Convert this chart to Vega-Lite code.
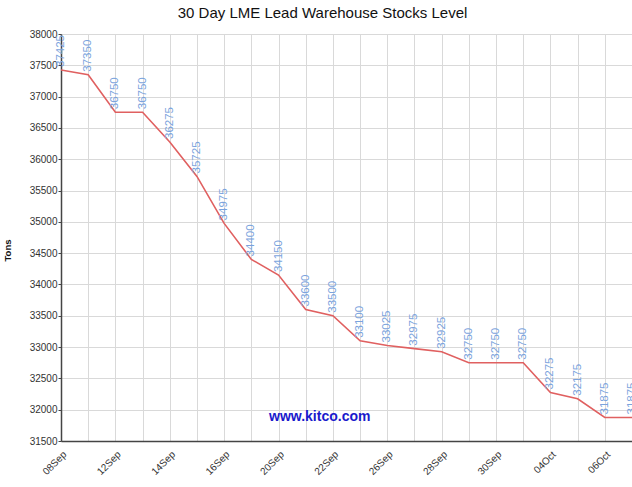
{
  "$schema": "https://vega.github.io/schema/vega-lite/v6.json",
  "autosize": "none",
  "width": 571,
  "height": 407,
  "padding": {"left": 61, "top": 34, "right": 0, "bottom": 46},
  "background": "white",
  "title": {
    "text": "30 Day LME Lead Warehouse Stocks Level",
    "font": "Liberation Sans",
    "fontSize": 15,
    "fontWeight": "normal",
    "color": "#111",
    "anchor": "middle",
    "frame": "group",
    "dx": -24,
    "offset": 8
  },
  "config": {
    "view": {"stroke": "#555", "strokeWidth": 1},
    "font": "Liberation Sans"
  },
  "data": {
    "values": [
      {"date": "08Sep", "tons": 37425},
      {"date": "09Sep", "tons": 37350},
      {"date": "12Sep", "tons": 36750},
      {"date": "13Sep", "tons": 36750},
      {"date": "14Sep", "tons": 36275},
      {"date": "15Sep", "tons": 35725},
      {"date": "16Sep", "tons": 34975},
      {"date": "19Sep", "tons": 34400},
      {"date": "20Sep", "tons": 34150},
      {"date": "21Sep", "tons": 33600},
      {"date": "22Sep", "tons": 33500},
      {"date": "23Sep", "tons": 33100},
      {"date": "26Sep", "tons": 33025},
      {"date": "27Sep", "tons": 32975},
      {"date": "28Sep", "tons": 32925},
      {"date": "29Sep", "tons": 32750},
      {"date": "30Sep", "tons": 32750},
      {"date": "03Oct", "tons": 32750},
      {"date": "04Oct", "tons": 32275},
      {"date": "05Oct", "tons": 32175},
      {"date": "06Oct", "tons": 31875},
      {"date": "07Oct", "tons": 31875}
    ]
  },
  "encoding": {
    "x": {
      "field": "date",
      "type": "ordinal",
      "sort": null,
      "scale": {"type": "point", "padding": 0},
      "axis": {
        "title": null,
        "grid": true,
        "gridColor": "#d9d9d9",
        "ticks": false,
        "domainColor": "#444",
        "domainWidth": 1.5,
        "labelAngle": -45,
        "labelAlign": "right",
        "labelBaseline": "top",
        "labelPadding": 8,
        "labelFontSize": 10,
        "labelColor": "#333",
        "labelOverlap": false,
        "labelExpr": "indexof(['08Sep','12Sep','14Sep','16Sep','20Sep','22Sep','26Sep','28Sep','30Sep','04Oct','06Oct'], datum.value) >= 0 ? datum.value : ''"
      }
    },
    "y": {
      "field": "tons",
      "type": "quantitative",
      "scale": {"domain": [31500, 38000], "nice": false, "zero": false},
      "axis": {
        "title": "Tons",
        "titleFontSize": 9.5,
        "titleFontWeight": "bold",
        "titleColor": "#111",
        "titleX": -49,
        "titleY": 216,
        "titleAnchor": "middle",
        "values": [31500, 32000, 32500, 33000, 33500, 34000, 34500, 35000, 35500, 36000, 36500, 37000, 37500, 38000],
        "format": "d",
        "grid": true,
        "gridColor": "#d9d9d9",
        "tickSize": 3,
        "tickColor": "#444",
        "domainColor": "#444",
        "domainWidth": 1.5,
        "labelPadding": 1,
        "labelFontSize": 10,
        "labelColor": "#333"
      }
    }
  },
  "layer": [
    {
      "mark": {"type": "line", "color": "#e06060", "strokeWidth": 1.6, "clip": true}
    },
    {
      "mark": {
        "type": "text",
        "angle": 270,
        "align": "left",
        "baseline": "middle",
        "dx": 3,
        "fontSize": 11.5,
        "color": "#7ba3dd"
      },
      "encoding": {"text": {"field": "tons", "type": "quantitative", "format": "d"}}
    },
    {
      "data": {"values": [{"label": "www.kitco.com", "date": "21Sep", "tons": 31880}]},
      "mark": {
        "type": "text",
        "align": "center",
        "baseline": "middle",
        "dx": 14,
        "fontSize": 14,
        "fontWeight": "bold",
        "color": "#1a1acc"
      },
      "encoding": {"text": {"field": "label"}}
    }
  ]
}
